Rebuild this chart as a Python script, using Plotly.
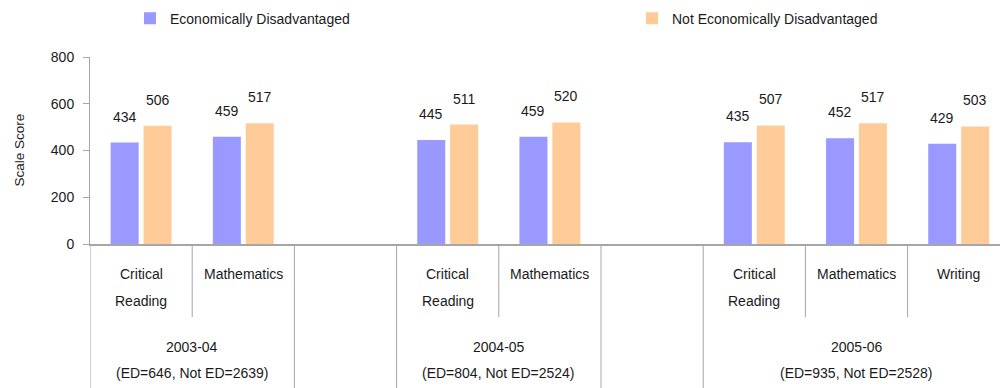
import plotly.graph_objects as go

# ---- data ----
years = ["2003-04", "2004-05", "2005-06"]
year_counts = ["(ED=646, Not ED=2639)", "(ED=804, Not ED=2524)", "(ED=935, Not ED=2528)"]
subjects = [
    ["Critical\nReading", "Mathematics"],
    ["Critical\nReading", "Mathematics"],
    ["Critical\nReading", "Mathematics", "Writing"],
]
ed_scores = [[434, 459], [445, 459], [435, 452, 429]]
ned_scores = [[506, 517], [511, 520], [507, 517, 503]]
series_names = ["Economically Disadvantaged", "Not Economically Disadvantaged"]
colors = ["#9999FF", "#FFCC99"]
y_ticks = [0, 200, 400, 600, 800]

FONT = "Liberation Sans, Arial, sans-serif"
GRID = "#A6A6A6"
TXT = "#1a1a1a"

# slot positions: one empty slot between year groups
pos, labels, ed_vals, ned_vals, group_centers, group_bounds = [], [], [], [], [], []
slot = 0
for g, subs in enumerate(subjects):
    start = slot
    for s, name in enumerate(subs):
        pos.append(slot)
        labels.append(name)
        ed_vals.append(ed_scores[g][s])
        ned_vals.append(ned_scores[g][s])
        slot += 1
    group_centers.append((start + slot - 1) / 2)
    group_bounds.append((start - 0.5, slot - 0.5))
    slot += 1

off = 0.161
bw = 0.274
fig = go.Figure()
fig.add_trace(go.Bar(x=[p - off for p in pos], y=ed_vals, width=bw,
                     marker=dict(color=colors[0], line=dict(width=0)),
                     name=series_names[0], legend="legend"))
fig.add_trace(go.Bar(x=[p + off for p in pos], y=ned_vals, width=bw,
                     marker=dict(color=colors[1], line=dict(width=0)),
                     name=series_names[1], legend="legend2"))

ann = []
# value labels
for p, v in zip(pos, ed_vals):
    ann.append(dict(x=p - off, y=v, xref="x", yref="y", text=str(v), showarrow=False,
                    yanchor="middle", yshift=26, font=dict(size=14, color=TXT)))
for p, v in zip(pos, ned_vals):
    ann.append(dict(x=p + off, y=v, xref="x", yref="y", text=str(v), showarrow=False,
                    yanchor="middle", yshift=26, font=dict(size=14, color=TXT)))
# subject labels
for p, name in zip(pos, labels):
    for li, line in enumerate(name.split("\n")):
        ann.append(dict(x=p, y=0, xref="x", yref="paper", text=line, showarrow=False,
                        yanchor="middle", yshift=-30 - 27 * li,
                        font=dict(size=14, color=TXT)))
# year labels
for c, yr, cnt in zip(group_centers, years, year_counts):
    ann.append(dict(x=c, y=0, xref="x", yref="paper", text=yr, showarrow=False,
                    yanchor="middle", yshift=-103, font=dict(size=14, color=TXT)))
    ann.append(dict(x=c, y=0, xref="x", yref="paper", text=cnt, showarrow=False,
                    yanchor="middle", yshift=-129, font=dict(size=14, color=TXT)))
# y title
ann.append(dict(x=0, y=0.5, xref="paper", yref="paper", text="Scale Score", showarrow=False,
                textangle=-90, xanchor="center", yanchor="middle", xshift=-71,
                font=dict(size=13.5, color=TXT)))

# divider lines below axis
H = 187.0
short_end = -(317 - 244) / H
full_end = -(388 - 244) / H - 0.05
shapes = []
for (a, b) in group_bounds:
    shapes.append(dict(type="line", xref="x", yref="paper", x0=a, x1=a, y0=0, y1=full_end,
                       line=dict(color=GRID, width=1)))
    shapes.append(dict(type="line", xref="x", yref="paper", x0=b, x1=b, y0=0, y1=full_end,
                       line=dict(color=GRID, width=1)))
for i in range(len(pos) - 1):
    if pos[i + 1] - pos[i] == 1:
        xb = pos[i] + 0.5
        shapes.append(dict(type="line", xref="x", yref="paper", x0=xb, x1=xb, y0=0, y1=short_end,
                           line=dict(color=GRID, width=1)))

leg_common = dict(orientation="h", yanchor="middle", xanchor="left", y=1.205,
                  font=dict(size=14, color=TXT), bgcolor="rgba(0,0,0,0)", itemwidth=30)
fig.update_layout(
    width=1000, height=388,
    margin=dict(l=90, r=0, t=57, b=144),
    paper_bgcolor="white", plot_bgcolor="white",
    font=dict(family=FONT, size=14, color=TXT),
    barmode="overlay",
    showlegend=True,
    legend=dict(x=(140 - 90 - 10) / 910, **leg_common),
    legend2=dict(x=(642 - 90 - 10) / 910, **leg_common),
    xaxis=dict(range=[-0.5, -0.5 + 910 / 102.2], showticklabels=False, showgrid=False,
               zeroline=False, showline=True, linecolor=GRID, linewidth=2, ticks="",
               fixedrange=True),
    yaxis=dict(range=[0, 800], tickvals=y_ticks, showgrid=False, zeroline=False,
               showline=True, linecolor=GRID, linewidth=1, ticks="outside", ticklen=6,
               tickcolor=GRID, ticklabelstandoff=6, tickfont=dict(size=14, color=TXT)),
    annotations=ann,
    shapes=shapes,
)

fig.write_html("out.html")
